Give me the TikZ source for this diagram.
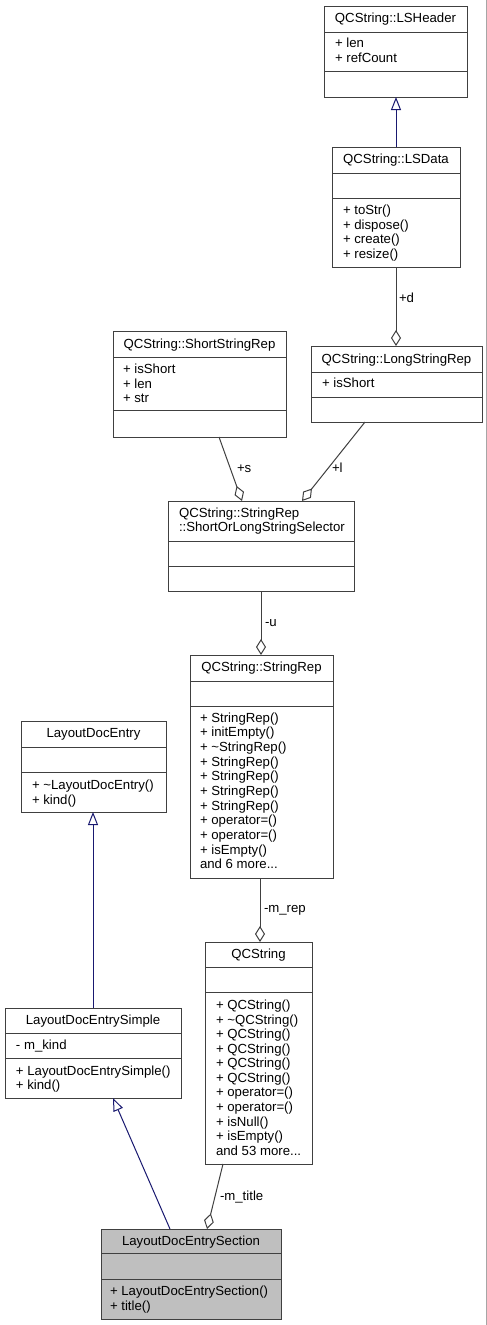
\documentclass[tikz,border=0pt]{standalone}
\usepackage{fontspec}
\setmainfont{Liberation Sans}
\usetikzlibrary{arrows.meta}
\definecolor{edgegray}{HTML}{404040}
\definecolor{inhblue}{HTML}{191970}
\definecolor{boxline}{HTML}{404040}
\tikzset{
  cls/.style={draw=boxline, line width=1pt, rectangle, inner sep=0pt, outer sep=0pt},
  sep/.style={draw=boxline, line width=1pt},
  txt/.style={inner sep=0pt, outer sep=0pt, anchor=base west, font=\fontsize{13.2}{14.6}\selectfont},
  ttl/.style={txt, anchor=base},
  comp/.style={draw=edgegray, line width=1pt, -{Diamond[open,length=16pt,width=10pt]}},
  inh/.style={draw=inhblue, line width=1pt, -{Triangle[open,length=13pt,width=10pt,fill=white]}},
}
% #1 name, #2 x1, #3 y1, #4 x2, #5 y2, #6 sep1, #7 sep2, #8 fill
\newcommand\classbox[8]{%
  \node[cls, fill=#8, minimum width={(#4-#2)*1pt}, minimum height={(#5-#3)*1pt}] (#1) at ({(#2+#4)/2},{(#3+#5)/2}) {};
  \draw[sep] (#2,#6) -- (#4,#6);
  \draw[sep] (#2,#7) -- (#4,#7);
}
\begin{document}
\begin{tikzpicture}[x=1pt,y=-1pt]
\useasboundingbox (0,0) rectangle (487,1325);
\fill[white] (0,0) rectangle (487,1325);
\draw[gray!70, line width=1pt] (486,0) -- (486,1325);

% LSHeader
\classbox{lsheader}{324}{6}{467}{97}{32}{71}{white}
\node[ttl] (lsheader-t) at (395.5,22) {QCString::LSHeader};
\node[txt] (lsheader-a1) at (335,47) {+ len};
\node[txt] (lsheader-a2) at (335,62) {+ refCount};

% LSData
\classbox{lsdata}{332}{147}{460}{267}{173}{198}{white}
\node[ttl] (lsdata-t) at (396,163) {QCString::LSData};
\node[txt] (lsdata-m1) at (343,214.5) {+ toStr()};
\node[txt] (lsdata-m2) at (343,229.2) {+ dispose()};
\node[txt] (lsdata-m3) at (343,243.8) {+ create()};
\node[txt] (lsdata-m4) at (343,258.5) {+ resize()};

% ShortStringRep
\classbox{shortrep}{113}{331}{286}{437}{357}{410}{white}
\node[ttl] (shortrep-t) at (199.5,348.5) {QCString::ShortStringRep};
\node[txt] (shortrep-a1) at (123,373.5) {+ isShort};
\node[txt] (shortrep-a2) at (123,388) {+ len};
\node[txt] (shortrep-a3) at (123,402.5) {+ str};

% LongStringRep
\classbox{longrep}{311}{346}{482}{422}{372}{397}{white}
\node[ttl] (longrep-t) at (396.5,363) {QCString::LongStringRep};
\node[txt] (longrep-a1) at (322,387) {+ isShort};

% Selector
\classbox{selector}{168}{501}{354}{591}{541}{566}{white}
\node[txt] (selector-t1) at (179,517) {QCString::StringRep};
\node[txt] (selector-t2) at (179,531) {::ShortOrLongStringSelector};

% StringRep
\classbox{stringrep}{190}{655}{333}{878}{681}{706}{white}
\node[ttl] (stringrep-t) at (261.5,671) {QCString::StringRep};
\foreach \t [count=\i from 0] in {{+ StringRep()},{+ initEmpty()},{+ \textasciitilde StringRep()},{+ StringRep()},{+ StringRep()},{+ StringRep()},{+ StringRep()},{+ operator=()},{+ operator=()},{+ isEmpty()},{and 6 more{.}{.}{.}}}
  \node[txt] (stringrep-m\i) at (200,{722+\i*14.667}) {\t};

% LayoutDocEntry
\classbox{lde}{21}{721}{166}{812}{747}{772}{white}
\node[ttl] (lde-t) at (93.5,737) {LayoutDocEntry};
\node[txt] (lde-m1) at (32,789) {+ \textasciitilde LayoutDocEntry()};
\node[txt] (lde-m2) at (32,804) {+ kind()};

% QCString
\classbox{qcstring}{205}{942}{312}{1164}{967}{992}{white}
\node[ttl] (qcstring-t) at (258.5,958.5) {QCString};
\foreach \t [count=\i from 0] in {{+ QCString()},{+ \textasciitilde QCString()},{+ QCString()},{+ QCString()},{+ QCString()},{+ QCString()},{+ operator=()},{+ operator=()},{+ isNull()},{+ isEmpty()},{and 53 more{.}{.}{.}}}
  \node[txt] (qcstring-m\i) at (216,{1009.5+\i*14.57}) {\t};

% LayoutDocEntrySimple
\classbox{simple}{5}{1008}{181}{1098}{1033}{1058}{white}
\node[ttl] (simple-t) at (93,1024) {LayoutDocEntrySimple};
\node[txt] (simple-a1) at (16,1049) {- m\_kind};
\node[txt] (simple-m1) at (16,1075) {+ LayoutDocEntrySimple()};
\node[txt] (simple-m2) at (16,1089.5) {+ kind()};

% LayoutDocEntrySection
\classbox{section}{101}{1229}{281}{1319}{1253}{1279}{black!25}
\node[ttl] (section-t) at (191,1245) {LayoutDocEntrySection};
\node[txt] (section-m1) at (110,1295) {+ LayoutDocEntrySection()};
\node[txt] (section-m2) at (110,1310) {+ title()};

% Edges
\draw[inh] (lsdata.north) -- (lsdata.north |- lsheader.south);
\draw[comp] (lsdata.south) -- (lsdata.south |- longrep.north);
\node[txt] (lbl-d) at (399,302.5) {+d};
\draw[comp] ([xshift=19.5pt]shortrep.south) -- ([xshift=-19pt]selector.north);
\node[txt] (lbl-s) at (237,472) {+s};
\draw[comp] ([xshift=-31.5pt]longrep.south) -- ([xshift=41pt]selector.north);
\node[txt] (lbl-l) at (332,472.5) {+l};
\draw[comp] (selector.south) -- (selector.south |- stringrep.north);
\node[txt] (lbl-u) at (265,626.5) {-u};
\draw[comp] ([xshift=-1.5pt]stringrep.south) -- ([xshift=-1.5pt]stringrep.south |- qcstring.north);
\node[txt] (lbl-mrep) at (264,912.5) {-m\_rep};
\draw[inh] (simple.north) -- (simple.north |- lde.south);
\draw[inh] ([xshift=-21pt]section.north) -- ([xshift=20pt]simple.south);
\draw[comp] ([xshift=-35.5pt]qcstring.south) -- ([xshift=16pt]section.north);
\node[txt] (lbl-mtitle) at (220,1200) {-m\_title};
\end{tikzpicture}
\end{document}
